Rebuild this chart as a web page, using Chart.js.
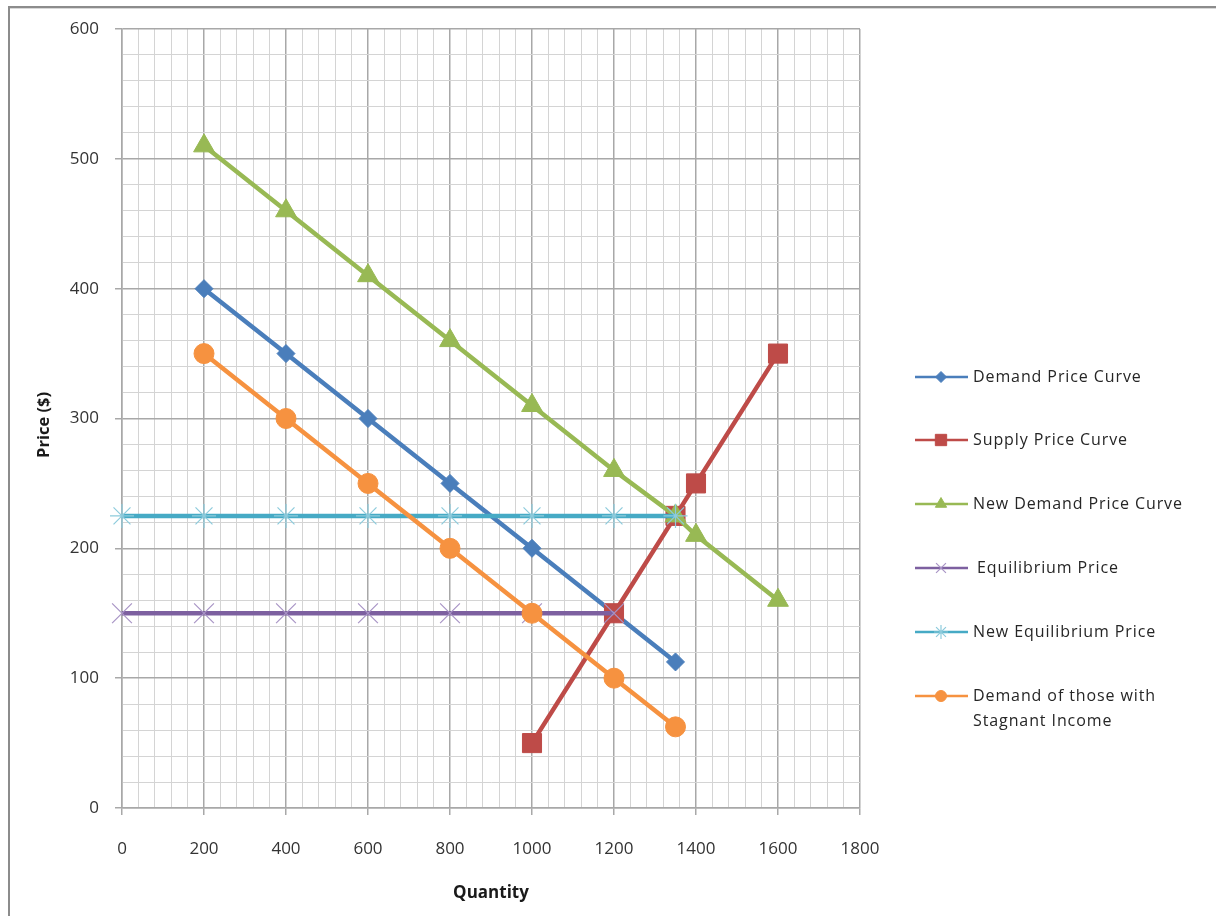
<!DOCTYPE html>
<html>
<head>
<meta charset="utf-8">
<script src="https://cdn.jsdelivr.net/npm/chart.js@4.4.1/dist/chart.umd.min.js"></script>
<style>
html, body { margin: 0; padding: 0; background: #fff; }
#wrap { position: relative; width: 1216px; height: 916px; overflow: hidden; }
#frame { position: absolute; left: 8px; top: 6px; width: 1300px; height: 1000px;
         border-top: 2px solid #8c8c8c; border-left: 2px solid #8c8c8c;
         box-shadow: inset 0 1px 0 #d8d8d8; }
canvas { position: absolute; left: 0; top: 0; }
</style>
</head>
<body>
<div id="wrap">
  <div id="frame"></div>
  <canvas id="myChart" width="1216" height="916"></canvas>
</div>
<script>
// series
var demandQty = [200, 400, 600, 800, 1000, 1200, 1350];
var demandPrice = [400, 350, 300, 250, 200, 150, 112.5];

var supplyQty = [1000, 1200, 1350, 1400, 1600];
var supplyPrice = [50, 150, 225, 250, 350];

var newDemandQty = [200, 400, 600, 800, 1000, 1200, 1350, 1400, 1600];
var newDemandPrice = [510, 460, 410, 360, 310, 260, 225, 210, 160];

var eqQty = [0, 200, 400, 600, 800, 1000, 1200];
var eqPrice = [150, 150, 150, 150, 150, 150, 150];

var newEqQty = [0, 200, 400, 600, 800, 1000, 1200, 1350];
var newEqPrice = [225, 225, 225, 225, 225, 225, 225, 225];

var stagnantQty = [200, 400, 600, 800, 1000, 1200, 1350];
var stagnantPrice = [350, 300, 250, 200, 150, 100, 62.5];

var seriesLabels = ['Demand Price Curve', 'Supply Price Curve', 'New Demand Price Curve',
                    'Equilibrium Price', 'New Equilibrium Price', 'Demand of those with Stagnant Income'];

function toPoints(xs, ys) {
    var pts = [];
    for (var i = 0; i < xs.length; i++) pts.push({x: xs[i], y: ys[i]});
    return pts;
}

var FONT = "'Open Sans', 'DejaVu Sans', sans-serif";

// legend marker sizes (smaller than the plot markers, like Excel does)
var legendMarker = [5.5, 8, 6.5, 7, 7, 5.5];
var legendY = [377, 440, 504, 568, 632, 696];

var sideLegend = {
    id: 'sideLegend',
    afterDraw: function (chart) {
        var ctx = chart.ctx;
        chart.data.datasets.forEach(function (ds, i) {
            var y = legendY[i];
            ctx.save();
            ctx.strokeStyle = ds.borderColor;
            ctx.lineWidth = 2.5;
            ctx.beginPath();
            ctx.moveTo(915, y);
            ctx.lineTo(968, y);
            ctx.stroke();
            ctx.fillStyle = ds.pointBackgroundColor;
            ctx.strokeStyle = ds.pointBorderColor;
            ctx.lineWidth = ds.pointBorderWidth;
            Chart.helpers.drawPoint(ctx, {
                pointStyle: ds.pointStyle,
                radius: legendMarker[i],
                rotation: 0,
                borderWidth: ds.pointBorderWidth
            }, 941, y);

            // label, wrapped like the original
            ctx.font = '16px ' + FONT;
            ctx.letterSpacing = '0.9px';
            ctx.fillStyle = '#262626';
            ctx.textBaseline = 'middle';
            ctx.textAlign = 'left';
            var words = ds.label.split(' ');
            var lines = [];
            var cur = '';
            words.forEach(function (w) {
                var test = cur ? cur + ' ' + w : w;
                if (ctx.measureText(test).width > 225 && cur) {
                    lines.push(cur);
                    cur = w;
                } else {
                    cur = test;
                }
            });
            lines.push(cur);
            var tx = ds.pointStyle === 'crossRot' ? 977 : 973;
            lines.forEach(function (line, k) {
                ctx.fillText(line, tx, y + k * 25);
            });
            ctx.restore();
        });
    }
};

function gridColor(major, ctx) {
    return ctx.tick && ctx.tick.value % major === 0 ? '#a8a8a8' : '#d4d4d4';
}

var ctx = document.getElementById('myChart');

var myChart = new Chart(ctx, {
    type: 'line',
    data: {
        datasets: [{
            label: seriesLabels[0],
            data: toPoints(demandQty, demandPrice),
            borderColor: '#4a7ebb',
            backgroundColor: '#4a7ebb',
            pointBackgroundColor: '#4a7ebb',
            pointBorderColor: '#4a7ebb',
            pointBorderWidth: 1,
            pointStyle: 'rectRot',
            pointRadius: 9,
            order: 5
        }, {
            label: seriesLabels[1],
            data: toPoints(supplyQty, supplyPrice),
            borderColor: '#be4b48',
            backgroundColor: '#be4b48',
            pointBackgroundColor: '#be4b48',
            pointBorderColor: '#be4b48',
            pointBorderWidth: 1,
            pointStyle: 'rect',
            pointRadius: 13.5,
            order: 4
        }, {
            label: seriesLabels[2],
            data: toPoints(newDemandQty, newDemandPrice),
            borderColor: '#98b954',
            backgroundColor: '#98b954',
            pointBackgroundColor: '#98b954',
            pointBorderColor: '#98b954',
            pointBorderWidth: 1,
            pointStyle: 'triangle',
            pointRadius: 12,
            order: 3
        }, {
            label: seriesLabels[3],
            data: toPoints(eqQty, eqPrice),
            borderColor: '#7d60a0',
            backgroundColor: '#7d60a0',
            pointBackgroundColor: '#a995c6',
            pointBorderColor: '#a995c6',
            pointBorderWidth: 1.2,
            pointStyle: 'crossRot',
            pointRadius: 14,
            order: 2
        }, {
            label: seriesLabels[4],
            data: toPoints(newEqQty, newEqPrice),
            borderColor: '#46aac5',
            backgroundColor: '#46aac5',
            pointBackgroundColor: '#8dcbdc',
            pointBorderColor: '#8dcbdc',
            pointBorderWidth: 1.2,
            pointStyle: 'star',
            pointRadius: 12,
            order: 1
        }, {
            label: seriesLabels[5],
            data: toPoints(stagnantQty, stagnantPrice),
            borderColor: '#f69240',
            backgroundColor: '#f69240',
            pointBackgroundColor: '#f69240',
            pointBorderColor: '#f69240',
            pointBorderWidth: 1,
            pointStyle: 'circle',
            pointRadius: 10,
            order: 0
        }]
    },
    options: {
        responsive: false,
        animation: false,
        events: [],
        datasets: {
            line: { borderWidth: 4.5, tension: 0, fill: false, clip: false, pointHoverRadius: 0 }
        },
        layout: { padding: { top: 29, right: 356, bottom: 0, left: 0 } },
        plugins: {
            legend: { display: false },
            tooltip: { enabled: false }
        },
        scales: {
            x: {
                type: 'linear',
                min: 0,
                max: 1800,
                afterFit: function (scale) { scale.height = 108; },
                grid: {
                    color: function (c) { return gridColor(200, c); },
                    lineWidth: function (c) { return c.tick && c.tick.value % 200 === 0 ? 1.5 : 1; },
                    tickColor: function (c) { return c.tick && c.tick.value % 200 === 0 ? '#a8a8a8' : 'rgba(0,0,0,0)'; },
                    tickLength: 7
                },
                border: { color: '#a8a8a8', width: 1.5 },
                ticks: {
                    stepSize: 40,
                    autoSkip: false,
                    maxRotation: 0,
                    padding: 24,
                    color: '#333',
                    font: { family: FONT, size: 17 },
                    callback: function (v) { return v % 200 === 0 ? String(v) : ''; }
                },
                title: {
                    display: true,
                    text: 'Quantity',
                    color: '#1a1a1a',
                    font: { family: FONT, size: 17, weight: 'bold' },
                    padding: { top: 0, bottom: 13 }
                }
            },
            y: {
                type: 'linear',
                min: 0,
                max: 600,
                afterFit: function (scale) { scale.width = 122; },
                grid: {
                    color: function (c) { return gridColor(100, c); },
                    lineWidth: function (c) { return c.tick && c.tick.value % 100 === 0 ? 1.5 : 1; },
                    tickColor: function (c) { return c.tick && c.tick.value % 100 === 0 ? '#a8a8a8' : 'rgba(0,0,0,0)'; },
                    tickLength: 7
                },
                border: { color: '#a8a8a8', width: 1.5 },
                ticks: {
                    stepSize: 20,
                    autoSkip: false,
                    padding: 16,
                    color: '#333',
                    font: { family: FONT, size: 17 },
                    callback: function (v) { return v % 100 === 0 ? String(v) : ''; }
                },
                title: {
                    display: true,
                    text: 'Price ($)\u00a0\u00a0\u00a0',
                    color: '#1a1a1a',
                    font: { family: FONT, size: 16.5, weight: 'bold' },
                    padding: { top: 34, bottom: 0 }
                }
            }
        }
    },
    plugins: [sideLegend]
});
</script>
</body>
</html>
